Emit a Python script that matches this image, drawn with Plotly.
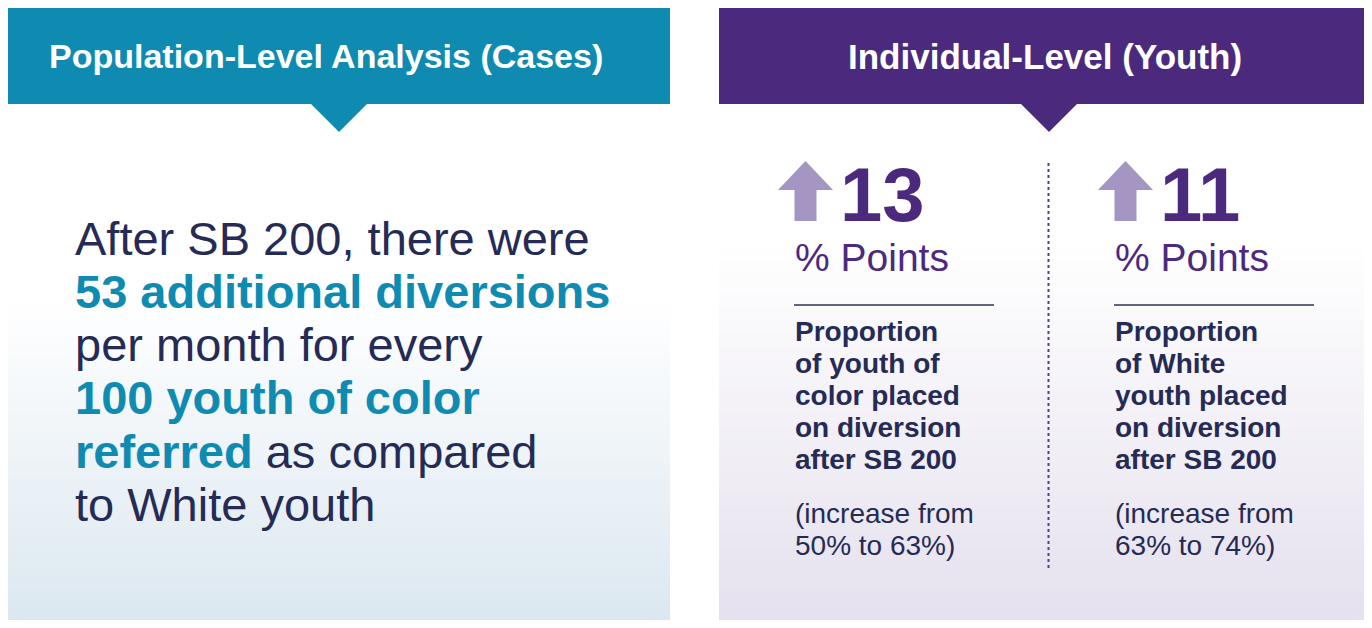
import plotly.graph_objects as go

# ---- data ----
panel_titles = ["Population-Level Analysis (Cases)", "Individual-Level (Youth)"]
additional_diversions = 53
per_youth_referred = 100
groups = ["youth of color", "White"]
pp_increase = [13, 11]
before_pct = [50, 63]
after_pct = [63, 74]
desc_lines = [
    ["Proportion", "of youth of", "color placed", "on diversion", "after SB 200"],
    ["Proportion", "of White", "youth placed", "on diversion", "after SB 200"],
]

W, H = 1372, 628
OFF = 8  # page body margin
TEAL = "#0F8BB2"
PURPLE = "#4B2A7E"
ARROW = "#A595C3"
NAVY = "#252B55"
FONT = "Liberation Sans"

fig = go.Figure()
shapes = []
ann = []


def lerp(c1, c2, t):
    a = [int(c1[i:i + 2], 16) for i in (1, 3, 5)]
    b = [int(c2[i:i + 2], 16) for i in (1, 3, 5)]
    return "rgb(%d,%d,%d)" % tuple(round(a[k] + (b[k] - a[k]) * t) for k in range(3))


def gradient(x0, x1, y0, y1, g0, top, bottom, n=60):
    shapes.append(dict(type="rect", x0=x0, x1=x1, y0=y0, y1=g0 + 1, fillcolor=top,
                       line=dict(width=0), layer="below"))
    step = (y1 - g0) / n
    for i in range(n):
        t = (i + 0.5) / n
        shapes.append(dict(type="rect", x0=x0, x1=x1, y0=g0 + i * step, y1=g0 + (i + 1) * step + 0.6,
                           fillcolor=lerp(top, bottom, t), line=dict(width=0), layer="below"))


# panel bodies
gradient(8, 670, 104, 640, 300, "#FFFFFF", "#D9E6EF")
gradient(719, 1380, 104, 640, 240, "#FFFFFF", "#E4DFED")

# headers
shapes.append(dict(type="rect", x0=8, x1=670, y0=8, y1=104, fillcolor=TEAL, line=dict(width=0)))
shapes.append(dict(type="rect", x0=719, x1=1380, y0=8, y1=104, fillcolor=PURPLE, line=dict(width=0)))
shapes.append(dict(type="path", path="M 310 103 L 368 103 L 339 132 Z", fillcolor=TEAL, line=dict(width=0)))
shapes.append(dict(type="path", path="M 1020 103 L 1078 103 L 1049 132 Z", fillcolor=PURPLE, line=dict(width=0)))

ann.append(dict(x=326, y=56, text="<b>%s</b>" % panel_titles[0], xanchor="center", yanchor="middle",
                font=dict(family=FONT, size=34, color="white"), showarrow=False))
ann.append(dict(x=1045, y=56, text="<b>%s</b>" % panel_titles[1], xanchor="center", yanchor="middle",
                font=dict(family=FONT, size=35, color="white"), showarrow=False))

# left panel text
hl = lambda s: '<span style="color:%s"><b>%s</b></span>' % (TEAL, s)
left_lines = [
    "After SB 200, there were",
    hl("%d additional diversions" % additional_diversions),
    "per month for every",
    hl("%d youth of color" % per_youth_referred),
    hl("referred") + " as compared",
    "to White youth",
]
for i, t in enumerate(left_lines):
    ann.append(dict(x=73, y=238 + i * 53.3, text=t, xanchor="left", yanchor="middle",
                    font=dict(family=FONT, size=47, color=NAVY), showarrow=False))

# right panel columns
col_x = [794, 1114]
for k in range(2):
    x = col_x[k]
    cx = x + 11.5
    shapes.append(dict(type="path",
                       path="M %f 161 L %f 190 L %f 190 L %f 221 L %f 221 L %f 190 L %f 190 Z" % (
                           cx, cx + 27.5, cx + 11, cx + 11, cx - 11, cx - 11, cx - 27.5),
                       fillcolor=ARROW, line=dict(width=0)))
    ann.append(dict(x=x + 44, y=194, text="<b>%d</b>" % pp_increase[k], xanchor="left", yanchor="middle",
                    font=dict(family=FONT, size=76, color=PURPLE), showarrow=False))
    ann.append(dict(x=x - 1, y=257, text="% Points", xanchor="left", yanchor="middle",
                    font=dict(family=FONT, size=39, color=PURPLE), showarrow=False))
    shapes.append(dict(type="line", x0=x, x1=x + 200, y0=305, y1=305, line=dict(color="#2E3358", width=1.5)))
    for j, t in enumerate(desc_lines[k]):
        ann.append(dict(x=x - 1, y=331 + j * 32, text="<b>%s</b>" % t, xanchor="left", yanchor="middle",
                        font=dict(family=FONT, size=28, color=NAVY), showarrow=False))
    for j, t in enumerate(["(increase from", "%d%% to %d%%)" % (before_pct[k], after_pct[k])]):
        ann.append(dict(x=x - 1, y=513 + j * 32, text=t, xanchor="left", yanchor="middle",
                        font=dict(family=FONT, size=28, color=NAVY), showarrow=False))

# dotted divider
shapes.append(dict(type="line", x0=1048.5, x1=1048.5, y0=163, y1=570,
                   line=dict(color="#5B3A8F", width=2, dash="dot")))

fig.update_layout(
    width=W - 2 * OFF, height=H - 2 * OFF, margin=dict(l=0, r=0, t=0, b=0),
    paper_bgcolor="white", plot_bgcolor="white",
    xaxis=dict(range=[OFF, W - OFF], visible=False, fixedrange=True),
    yaxis=dict(range=[H - OFF, OFF], visible=False, fixedrange=True),
    shapes=shapes, annotations=ann, showlegend=False,
)
fig.write_html("out.html")
